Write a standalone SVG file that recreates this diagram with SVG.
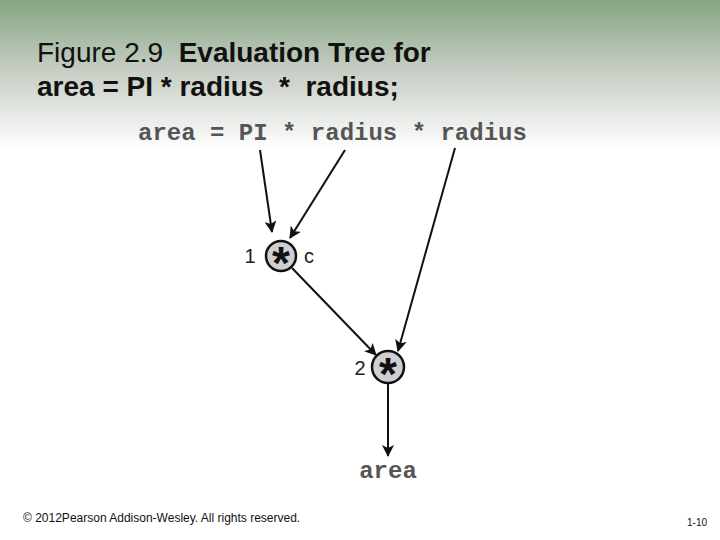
<svg xmlns="http://www.w3.org/2000/svg" width="720" height="540" viewBox="0 0 720 540">
<defs>
<linearGradient id="bg" x1="0" y1="0" x2="0" y2="1">
<stop offset="0" stop-color="#84a67f"/><stop offset="0.45" stop-color="#c4ccc2"/><stop offset="1" stop-color="#ffffff"/>
</linearGradient>
<marker id="ah" viewBox="0 0 12 12" refX="11" refY="6" markerWidth="12" markerHeight="12" markerUnits="userSpaceOnUse" orient="auto">
<path d="M0,0 L12,6 L0,12 L3,6 Z" fill="#111"/>
</marker>
<style>
.code{font-family:"Liberation Mono",monospace;font-weight:bold;font-size:24px;fill:#555}
.lbl{font-family:"Liberation Sans",Arial,sans-serif;font-size:20px;fill:#222}
.node{fill:#cfcfd2;stroke:#111;stroke-width:2.5}
.star{font-family:"Liberation Sans",Arial,sans-serif;font-weight:bold;font-size:46px;fill:#111}
.edge{stroke:#111;stroke-width:2;fill:none;marker-end:url(#ah)}
.title{font-family:"Liberation Sans",Arial,sans-serif;font-size:28px;fill:#111}
</style>
</defs>
<rect width="720" height="540" fill="#fff"/>
<rect width="720" height="150" fill="url(#bg)"/>
<text class="title" x="37" y="62" xml:space="preserve">Figure 2.9  <tspan font-weight="bold">Evaluation Tree for</tspan></text>
<text class="title" x="37" y="96" font-weight="bold" xml:space="preserve">area = PI * radius  *  radius;</text>
<text class="code" x="138" y="140">area = PI * radius * radius</text>
<g id="connectors">
<path class="edge" d="M260,150 L272,232"/>
<path class="edge" d="M345,150 L290,238"/>
<path class="edge" d="M455,148 L398,351"/>
<path class="edge" d="M292,268 L376,355"/>
<path class="edge" d="M388,384 L388,456"/>
</g>
<g id="node1">
<circle class="node" cx="281" cy="256" r="15"/>
<text class="star" x="281" y="279" text-anchor="middle">*</text>
<text class="lbl" x="250" y="263" text-anchor="middle">1</text>
<text class="lbl" x="309" y="263" text-anchor="middle">c</text>
</g>
<g id="node2">
<circle class="node" cx="388" cy="367" r="16"/>
<text class="star" x="388" y="390" text-anchor="middle">*</text>
<text class="lbl" x="360" y="375" text-anchor="middle">2</text>
</g>
<g id="result"><text class="code" x="388" y="478" text-anchor="middle">area</text></g>
<text x="23" y="522" font-family="Liberation Sans,Arial,sans-serif" font-size="12" fill="#111">© 2012Pearson Addison-Wesley. All rights reserved.</text>
<text x="707" y="526" font-family="Liberation Sans,Arial,sans-serif" font-size="10" fill="#111" text-anchor="end">1-10</text>
</svg>
